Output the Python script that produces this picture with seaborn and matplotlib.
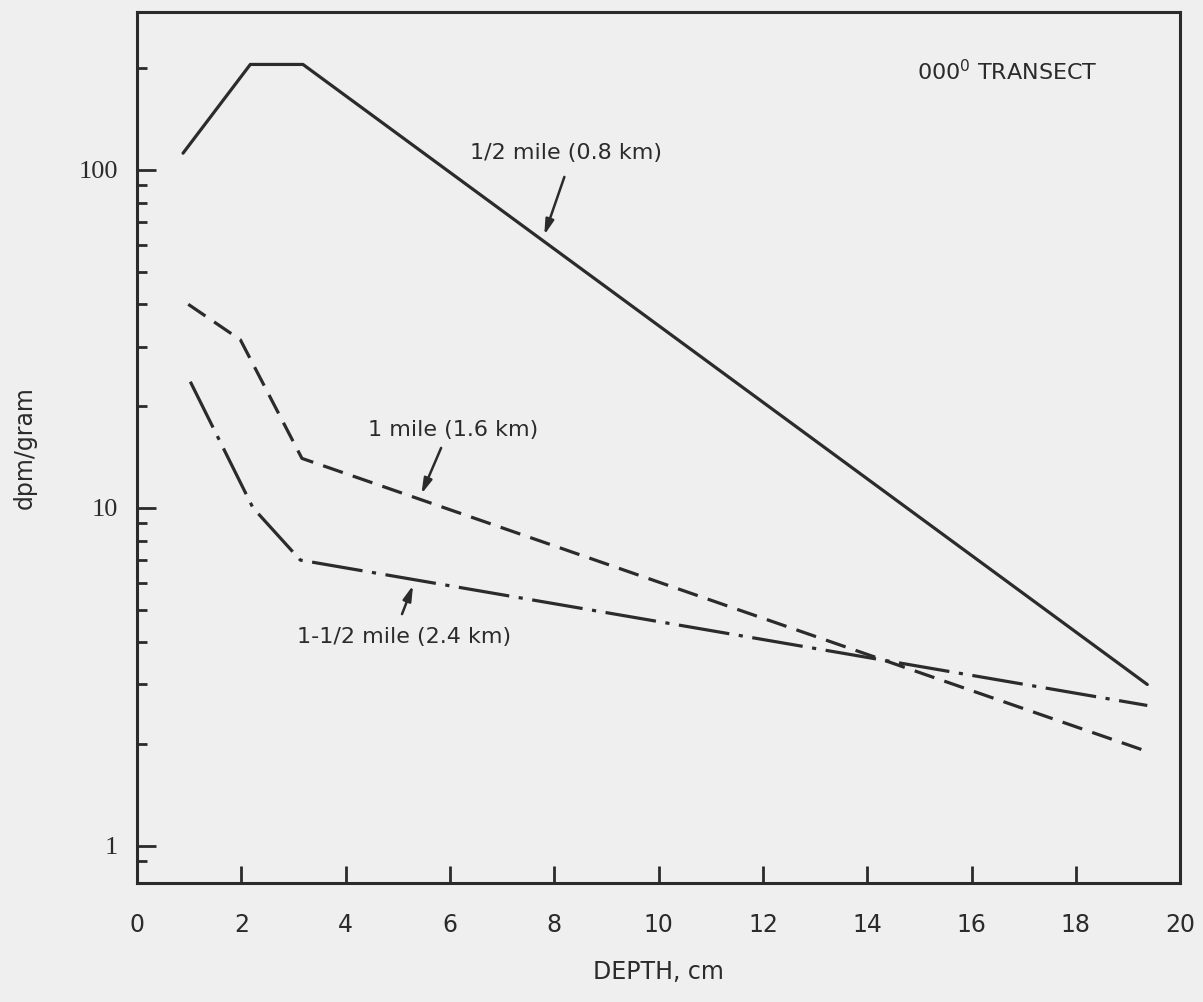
import numpy as np
import pandas as pd
import seaborn as sns
import matplotlib.pyplot as plt
from matplotlib.ticker import FixedLocator, NullFormatter

# depth profiles (dpm/gram vs depth in cm)
series_names = ["1/2 mile (0.8 km)", "1 mile (1.6 km)", "1-1/2 mile (2.4 km)"]
depth_half = [0.88, 2.17, 3.18, 19.37]
dpm_half = [112, 205, 205, 3.0]
depth_one = [0.98, 1.98, 3.16, 19.37]
dpm_one = [40, 31.4, 14.0, 1.9]
depth_one_half = [1.02, 2.22, 3.13, 19.37]
dpm_one_half = [23.6, 10.0, 7.0, 2.6]

x_ticks = [0, 2, 4, 6, 8, 10, 12, 14, 16, 18, 20]
y_ticks = [1, 10, 100]
y_minor = [0.9, 2, 3, 4, 5, 6, 7, 8, 9, 20, 30, 40, 50, 60, 70, 80, 90, 200]

df = pd.concat([
    pd.DataFrame({"depth": depth_half, "dpm": dpm_half, "site": series_names[0]}),
    pd.DataFrame({"depth": depth_one, "dpm": dpm_one, "site": series_names[1]}),
    pd.DataFrame({"depth": depth_one_half, "dpm": dpm_one_half, "site": series_names[2]}),
], ignore_index=True)

sns.set_style("ticks")
plt.rcParams["font.family"] = ["DejaVu Sans"]
ink = "#2b2b2b"
paper = "#efefef"

fig = plt.figure(figsize=(12.03, 10.02), dpi=100, facecolor=paper)
ax = fig.add_axes([0.114, 0.119, 0.867, 0.869])
ax.set_facecolor(paper)

sns.lineplot(data=df, x="depth", y="dpm", hue="site", style="site",
             palette={s: ink for s in series_names},
             dashes={series_names[0]: "",
                     series_names[1]: (6.5, 3.3),
                     series_names[2]: (16, 3, 1.3, 3)},
             linewidth=2.3, sort=False, legend=False, ax=ax)

ax.set_yscale("log")
ax.set_xlim(0, 20)
ax.set_ylim(0.777, 293)

ax.xaxis.set_major_locator(FixedLocator(x_ticks))
ax.yaxis.set_major_locator(FixedLocator(y_ticks))
ax.yaxis.set_major_formatter(plt.FuncFormatter(lambda v, p: f"{v:g}"))
ax.yaxis.set_minor_locator(FixedLocator(y_minor))
ax.yaxis.set_minor_formatter(NullFormatter())

ax.tick_params(axis="both", direction="in", colors=ink, labelcolor=ink,
               labelsize=17, width=2)
ax.tick_params(axis="x", length=12, pad=22, top=False)
ax.tick_params(axis="y", which="major", length=14, pad=14, right=False, labelsize=19)
ax.tick_params(axis="y", which="minor", length=7, width=2, direction="in", colors=ink, right=False)
for lab in ax.get_yticklabels():
    lab.set_family("Liberation Serif")
for sp in ax.spines.values():
    sp.set_color(ink)
    sp.set_linewidth(2.2)

ax.set_xlabel("DEPTH, cm", fontsize=17, color=ink, labelpad=16)
ax.set_ylabel("dpm/gram", fontsize=17, color=ink)
ax.yaxis.set_label_coords(-0.096, 0.5)

# curve labels with arrows
arrow = dict(arrowstyle="-|>,head_length=0.9,head_width=0.25", color=ink, lw=1.8)
ax.annotate("", xy=(7.79, 63), xytext=(8.21, 97), arrowprops=arrow)
ax.text(6.39, 112, series_names[0], fontsize=16, color=ink, va="center", ha="left")
ax.annotate("", xy=(5.43, 10.8), xytext=(5.85, 15.3), arrowprops=arrow)
ax.text(4.43, 17.0, series_names[1], fontsize=16, color=ink, va="center", ha="left")
ax.annotate("", xy=(5.31, 6.0), xytext=(5.06, 4.76), arrowprops=arrow)
ax.text(3.07, 4.15, series_names[2], fontsize=16, color=ink, va="center", ha="left")

ax.text(14.96, 195, "000$^{\\mathregular{0}}$ TRANSECT", fontsize=16, color=ink,
        va="center", ha="left")

fig.savefig("out.png", dpi=100, facecolor=paper)
